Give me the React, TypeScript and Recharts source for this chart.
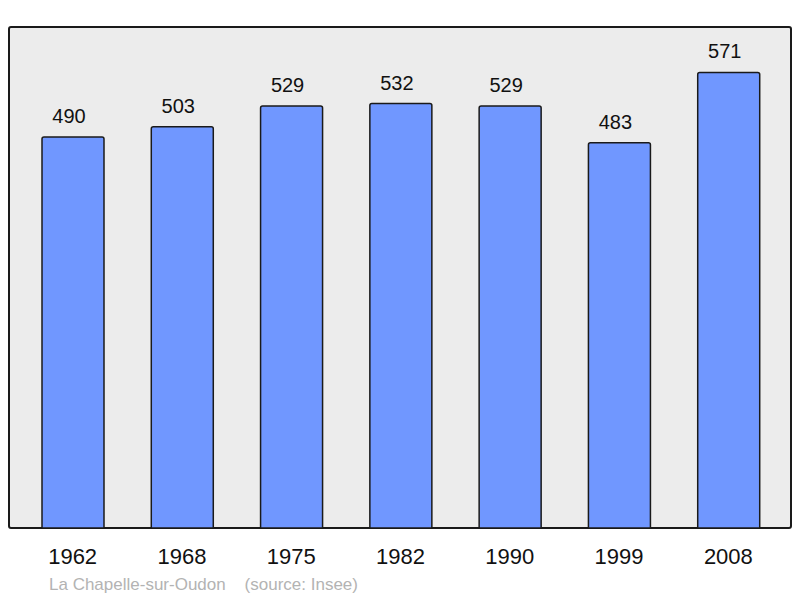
import React from 'react';
import { BarChart, Bar, XAxis, YAxis, LabelList } from 'recharts';

const years = ['1962', '1968', '1975', '1982', '1990', '1999', '2008'];
const population = [490, 503, 529, 532, 529, 483, 571];

const data = years.map((year, i) => ({ year, value: population[i] }));

const FONT = '"Liberation Sans", Arial, sans-serif';

export default function App() {
  return (
    <div style={{ position: 'absolute', left: 0, top: 0, width: 800, height: 598, background: '#fff', fontFamily: FONT }}>
      {/* framed grey panel behind the bars */}
      <div
        style={{
          position: 'absolute',
          left: 8,
          top: 26,
          width: 784,
          height: 503,
          boxSizing: 'border-box',
          background: '#ececec',
          border: '2px solid #1a1a1a',
          borderRadius: 3,
        }}
      />
      <div style={{ position: 'absolute', left: 0, top: 0 }}>
        <BarChart width={800} height={598} data={data} margin={{ top: 27, right: 9, bottom: 0, left: 9 }}>
          <XAxis
            dataKey="year"
            height={70}
            axisLine={false}
            tickLine={false}
            tickMargin={14}
            interval={0}
            padding={{ left: 9, right: 8 }}
            tick={{ fontSize: 22, fill: '#111', fontFamily: FONT }}
          />
          <YAxis hide domain={[0, 628]} />
          <Bar
            dataKey="value"
            fill="#7097ff"
            stroke="#1a1a1a"
            strokeWidth={1.5}
            barSize={62}
            radius={[2, 2, 0, 0]}
            isAnimationActive={false}
          >
            <LabelList
              dataKey="value"
              position="top"
              offset={14}
              dx={-4}
              style={{ fontSize: 20, fill: '#111', fontFamily: FONT }}
            />
          </Bar>
        </BarChart>
      </div>
      <div style={{ position: 'absolute', left: 49, top: 575, fontSize: 17, color: '#b3b3b3', whiteSpace: 'pre' }}>
        {'La Chapelle-sur-Oudon    (source: Insee)'}
      </div>
    </div>
  );
}
